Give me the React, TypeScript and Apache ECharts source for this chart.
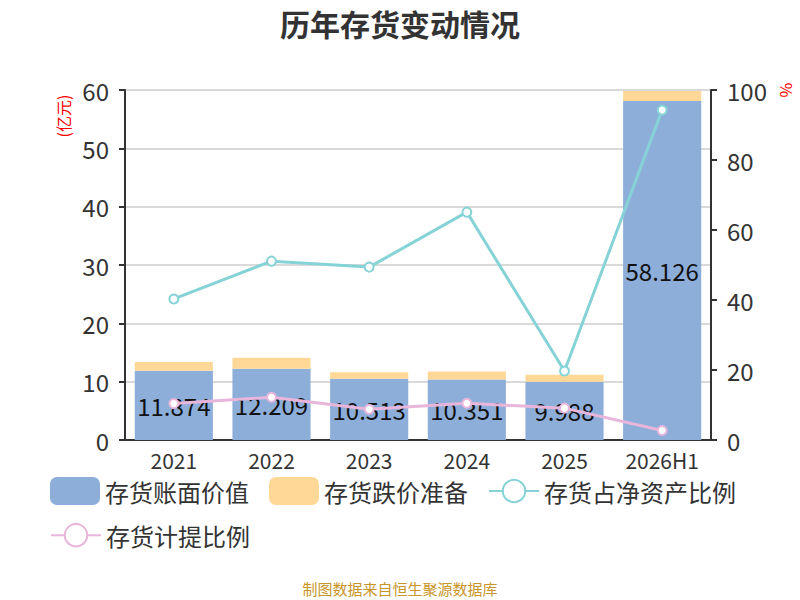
import React, { useEffect, useRef } from "react";
import * as echarts from "echarts";

const categories = ["2021", "2022", "2023", "2024", "2025", "2026H1"];
const bookValue = [11.874, 12.209, 10.513, 10.351, 9.988, 58.126];
const impairment = [1.5, 1.9, 1.1, 1.4, 1.2, 1.7];
const netAssetRatio = [40.3, 51.1, 49.4, 65.1, 19.7, 94.3];
const provisionRatio = [10.4, 12.2, 8.8, 10.5, 9.1, 2.7];

const FONT = "Noto Sans CJK SC";

const legendBase = {
  left: 50,
  width: 740,
  padding: [0, 0, 0, 0],
  itemWidth: 50,
  itemHeight: 28,
  itemGap: 20,
  textStyle: { fontSize: 24, color: "#333", fontFamily: FONT },
};

export default function App() {
  const ref = useRef<HTMLDivElement>(null);
  useEffect(() => {
    const chart = echarts.init(ref.current!, null, { renderer: "svg" });
    chart.setOption({
      animation: false,
      textStyle: { fontFamily: FONT },
      title: {
        text: "历年存货变动情况",
        left: "center",
        top: 3,
        textStyle: { fontSize: 30, fontWeight: "bold", color: "#333", fontFamily: FONT },
      },
      legend: [
        {
          ...legendBase,
          top: 477,
          data: [
            { name: "存货账面价值", icon: "roundRect" },
            { name: "存货跌价准备", icon: "roundRect" },
            "存货占净资产比例",
          ],
        },
        {
          ...legendBase,
          top: 523,
          data: ["存货计提比例"],
        },
      ],
      grid: { left: 125, right: 89, top: 90, bottom: 160 },
      xAxis: {
        type: "category",
        data: categories,
        axisLine: { lineStyle: { color: "#333", width: 2 } },
        axisTick: { lineStyle: { color: "#333", width: 2 }, length: 6 },
        axisLabel: { fontSize: 21, color: "#333", margin: 9, interval: 0 },
      },
      yAxis: [
        {
          type: "value",
          min: 0,
          max: 60,
          interval: 10,
          axisLine: { show: true, lineStyle: { color: "#333", width: 2 } },
          axisTick: { show: true, lineStyle: { color: "#333", width: 2 }, length: 6 },
          axisLabel: { fontSize: 24, color: "#333", margin: 16 },
          splitLine: { lineStyle: { color: "#ccc", width: 1.5 } },
        },
        {
          type: "value",
          min: 0,
          max: 100,
          interval: 20,
          axisLine: { show: true, lineStyle: { color: "#333", width: 2 } },
          axisTick: { show: true, lineStyle: { color: "#333", width: 2 }, length: 6 },
          axisLabel: { fontSize: 24, color: "#333", margin: 16 },
          splitLine: { show: false },
        },
      ],
      series: [
        {
          name: "存货账面价值",
          type: "bar",
          stack: "inv",
          data: bookValue,
          barWidth: "80%",
          itemStyle: { color: "#8eaeda" },
          label: {
            show: true,
            position: "inside",
            fontSize: 24,
            color: "#111",
            fontFamily: FONT,
          },
        },
        {
          name: "存货跌价准备",
          type: "bar",
          stack: "inv",
          data: impairment,
          barWidth: "80%",
          itemStyle: { color: "#ffd898" },
        },
        {
          name: "存货占净资产比例",
          type: "line",
          yAxisIndex: 1,
          data: netAssetRatio,
          symbol: "circle",
          symbolSize: 9,
          lineStyle: { color: "#86d3d7", width: 3 },
          itemStyle: { color: "#fff", borderColor: "#86d3d7", borderWidth: 2 },
        },
        {
          name: "存货计提比例",
          type: "line",
          yAxisIndex: 1,
          data: provisionRatio,
          symbol: "circle",
          symbolSize: 9,
          lineStyle: { color: "#e8b6db", width: 3 },
          itemStyle: { color: "#fff", borderColor: "#e8b6db", borderWidth: 2 },
        },
      ],
      graphic: [
        {
          type: "text",
          x: 63,
          y: 116,
          rotation: Math.PI / 2,
          style: {
            text: "(亿元)",
            fill: "#ff0000",
            fontSize: 16,
            fontFamily: FONT,
            align: "center",
            verticalAlign: "middle",
          },
        },
        {
          type: "text",
          x: 787,
          y: 90,
          rotation: -Math.PI / 2,
          style: {
            text: "%",
            fill: "#ff0000",
            fontSize: 16,
            fontFamily: FONT,
            align: "center",
            verticalAlign: "middle",
          },
        },
        {
          type: "text",
          x: 400,
          y: 588,
          style: {
            text: "制图数据来自恒生聚源数据库",
            fill: "#c8952a",
            fontSize: 15,
            fontFamily: FONT,
            align: "center",
            verticalAlign: "middle",
          },
        },
      ],
    });
    return () => chart.dispose();
  }, []);
  return (
    <div
      ref={ref}
      style={{ position: "absolute", left: 0, top: 0, width: 800, height: 600 }}
    />
  );
}
